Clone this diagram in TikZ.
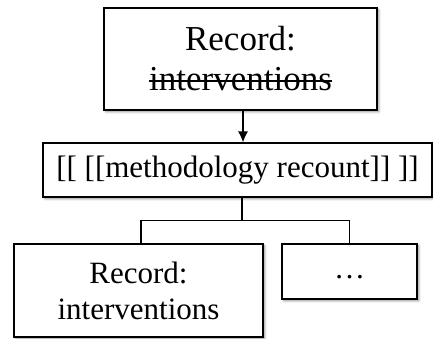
\documentclass[tikz,border=0pt]{standalone}
\usepackage{fontspec}
\setmainfont{Liberation Serif}
\usetikzlibrary{arrows.meta,shadows.blur}

% struck-through word
\newcommand{\strikeword}[1]{\setbox0\hbox{#1}\rlap{\rule[0.27em]{\wd0}{1.3pt}}\box0}

\tikzset{
  box/.style={draw, line width=1.2pt, fill=white, align=center, inner sep=0pt,
    blur shadow={shadow xshift=1.8pt, shadow yshift=-1.8pt, shadow blur radius=2.2pt, shadow opacity=45}},
  link/.style={line width=1.2pt}
}

\begin{document}
\begin{tikzpicture}[x=1pt, y=1pt]
  \useasboundingbox (0,0) rectangle (433,-338);
  \coordinate (T) at (240.5, -59);
  \coordinate (M) at (237.5, -170);
  \coordinate (L) at (138.5, -290.5);
  \coordinate (R) at (349.5, -271.5);

  \node[box, minimum width=273pt, minimum height=102pt, font=\fontsize{35}{40}\selectfont]
    (record) at (T) {Record:\\\strikeword{interventions}};
  \node[box, minimum width=389pt, minimum height=54pt, font=\fontsize{31}{36}\selectfont]
    (method) at (M) {[[ [[methodology recount]] ]]};
  \node[box, minimum width=249pt, minimum height=93pt, font=\fontsize{31}{36}\selectfont]
    (interv) at (L) {Record:\\interventions};
  \node[box, minimum width=135pt, minimum height=55pt, font=\fontsize{31}{36}\selectfont]
    (more) at (R) {\strut\dots};

  \coordinate (A) at ([xshift=2.5pt]record.south);
  \draw[link, -{Latex[length=11pt, width=10pt]}] (A) -- (A |- method.north);
  \coordinate (J) at ([xshift=4.5pt, yshift=-23pt]method.south);
  \draw[link] (J |- method.south) -- (J);
  \draw[link] ([xshift=2.5pt]interv.north) |- (J) -| (more.north);
\end{tikzpicture}
\end{document}
